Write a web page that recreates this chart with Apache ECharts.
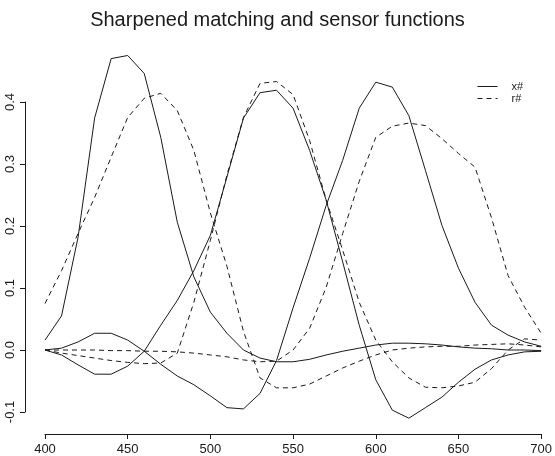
<!DOCTYPE html>
<html>
<head>
<meta charset="utf-8">
<title>Sharpened matching and sensor functions</title>
<script src="https://cdn.jsdelivr.net/npm/echarts@6/dist/echarts.min.js"></script>
<style>
  html, body { margin: 0; padding: 0; background: #fff; }
  #chart { width: 555px; height: 456px; }
</style>
</head>
<body>
<div id="chart"></div>
<script>
// Wavelengths (nm) at which the functions are sampled
const wavelengths = [400, 410, 420, 430, 440, 450, 460, 470, 480, 490,
                     500, 510, 520, 530, 540, 550, 560, 570, 580, 590,
                     600, 610, 620, 630, 640, 650, 660, 670, 680, 690, 700];

// Sharpened colour matching functions (solid)
const xSharpShort = [0.016, 0.055, 0.182, 0.374, 0.470, 0.475, 0.446, 0.343, 0.206, 0.118,
                     0.061, 0.027, 0.000, -0.013, -0.019, -0.019, -0.015, -0.008, -0.002, 0.003,
                     0.008, 0.011, 0.011, 0.010, 0.008, 0.005, 0.003, 0.002, 0.000, 0.000, -0.001];
const xSharpMedium = [0.000, -0.008, -0.024, -0.039, -0.039, -0.026, -0.002, 0.040, 0.080, 0.128,
                      0.185, 0.279, 0.374, 0.415, 0.419, 0.390, 0.322, 0.242, 0.142, 0.040,
                      -0.048, -0.097, -0.110, -0.093, -0.076, -0.052, -0.031, -0.016, -0.008, -0.003, -0.002];
const xSharpLong = [0.000, 0.003, 0.013, 0.027, 0.027, 0.016, -0.002, -0.023, -0.042, -0.056,
                    -0.074, -0.093, -0.095, -0.070, -0.017, 0.068, 0.148, 0.233, 0.306, 0.390,
                    0.432, 0.424, 0.378, 0.290, 0.201, 0.132, 0.077, 0.040, 0.024, 0.013, 0.006];

// Sharpened sensor functions (dashed)
const rSharpShort = [0.075, 0.128, 0.188, 0.246, 0.311, 0.375, 0.406, 0.414, 0.386, 0.322,
                     0.221, 0.135, 0.030, -0.045, -0.061, -0.061, -0.055, -0.042, -0.029, -0.018,
                     -0.008, 0.000, 0.003, 0.005, 0.006, 0.006, 0.008, 0.009, 0.010, 0.008, 0.005];
const rSharpMedium = [0.000, -0.005, -0.009, -0.013, -0.017, -0.020, -0.022, -0.021, -0.005, 0.077,
                      0.177, 0.282, 0.375, 0.430, 0.433, 0.412, 0.338, 0.242, 0.161, 0.077,
                      0.016, -0.019, -0.045, -0.060, -0.061, -0.058, -0.052, -0.030, 0.000, 0.018, 0.016];
const rSharpLong = [0.000, 0.000, 0.000, 0.000, -0.001, -0.001, -0.002, -0.002, -0.003, -0.005,
                    -0.008, -0.011, -0.016, -0.019, -0.018, 0.000, 0.035, 0.101, 0.188, 0.272,
                    0.343, 0.361, 0.366, 0.362, 0.341, 0.317, 0.295, 0.213, 0.120, 0.069, 0.027];

const xTicks = [400, 450, 500, 550, 600, 650, 700];
const yTicks = [-0.1, 0.0, 0.1, 0.2, 0.3, 0.4];

const legendNames = ['x#', 'r#'];
const FONT = '"Liberation Sans", Arial, Helvetica, sans-serif';
const INK = '#1a1a1a';

function pairs(values) {
  return wavelengths.map((w, i) => [w, values[i]]);
}

function curve(name, values, dashed) {
  return {
    name: name,
    type: 'line',
    data: pairs(values),
    symbol: 'none',
    showSymbol: false,
    smooth: false,
    clip: false,
    silent: true,
    lineStyle: { color: INK, width: 1, type: dashed ? [5, 4] : 'solid' },
    itemStyle: { color: INK },
    emphasis: { disabled: true }
  };
}

const chart = echarts.init(document.getElementById('chart'), null, { renderer: 'canvas' });

chart.setOption({
  animation: false,
  backgroundColor: '#ffffff',
  title: {
    text: 'Sharpened matching and sensor functions',
    left: 'center',
    top: 5,
    textStyle: { fontFamily: FONT, fontSize: 20, fontWeight: 'normal', color: INK }
  },
  legend: {
    data: legendNames,
    orient: 'vertical',
    left: 472,
    top: 76,
    itemWidth: 20,
    itemHeight: 8,
    itemGap: 1,
    selectedMode: false,
    itemStyle: { color: 'rgba(0,0,0,0)', borderWidth: 0, opacity: 0 },
    lineStyle: { width: 1, color: INK },
    textStyle: { fontFamily: FONT, fontSize: 11, color: INK, lineHeight: 9, padding: [0, 0, 0, 9] }
  },
  grid: { left: 45, right: 6.5, top: 102, bottom: 43.7, containLabel: false },
  xAxis: {
    type: 'value',
    min: xTicks[0],
    max: xTicks[xTicks.length - 1],
    interval: xTicks[1] - xTicks[0],
    offset: 22,
    axisLine: { show: true, onZero: false, lineStyle: { color: INK, width: 1 } },
    axisTick: { show: true, length: 5, inside: false, lineStyle: { color: INK } },
    axisLabel: { fontFamily: FONT, fontSize: 13, color: INK, margin: 9 },
    splitLine: { show: false }
  },
  yAxis: {
    type: 'value',
    min: yTicks[0],
    max: yTicks[yTicks.length - 1],
    interval: 0.1,
    offset: 20,
    axisLine: { show: true, onZero: false, lineStyle: { color: INK, width: 1 } },
    axisTick: { show: true, length: 5, inside: false, lineStyle: { color: INK } },
    axisLabel: {
      fontFamily: FONT, fontSize: 13, color: INK, margin: 8, rotate: 90,
      formatter: v => v.toFixed(1)
    },
    splitLine: { show: false }
  },
  series: [
    curve('x#', xSharpShort, false),
    curve('x#', xSharpMedium, false),
    curve('x#', xSharpLong, false),
    curve('r#', rSharpShort, true),
    curve('r#', rSharpMedium, true),
    curve('r#', rSharpLong, true)
  ]
});
</script>
</body>
</html>
